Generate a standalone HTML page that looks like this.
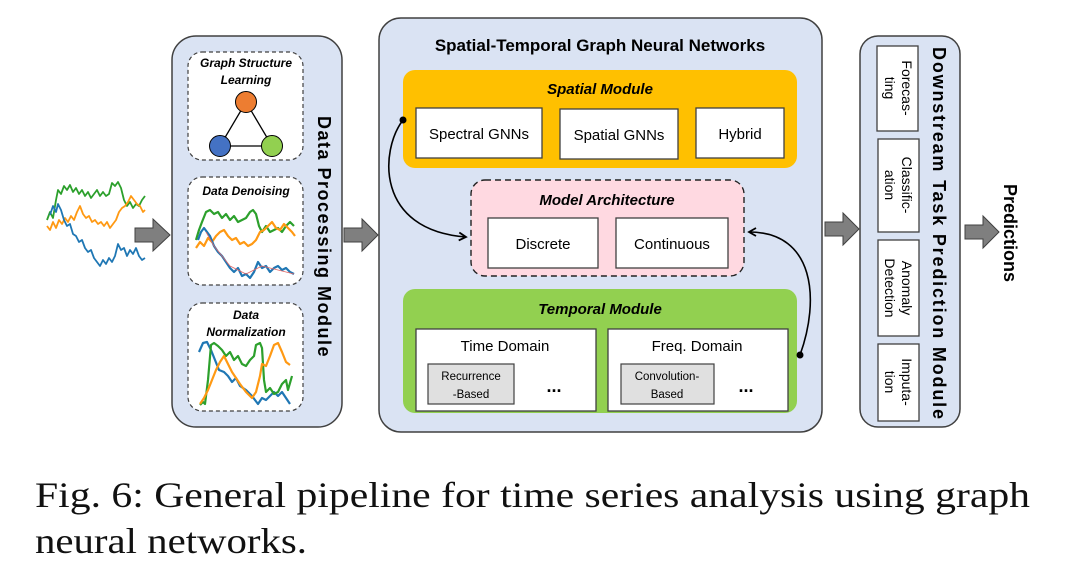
<!DOCTYPE html>
<html><head><meta charset="utf-8"><style>
html,body{margin:0;padding:0;background:#fff;}
svg{display:block;}
.s{font-family:"Liberation Sans",sans-serif;}
</style></head><body>
<svg width="1080" height="588" viewBox="0 0 1080 588" xmlns="http://www.w3.org/2000/svg">
<defs>
<marker id="ah" markerWidth="10" markerHeight="10" refX="8" refY="5" orient="auto" markerUnits="userSpaceOnUse">
<path d="M1,1 L8,5 L1,9" fill="none" stroke="#000" stroke-width="1.8"/>
</marker>
</defs>

<g fill="none" stroke-width="1.8" stroke-linejoin="round">
<polyline stroke="#2ca02c" points="47,220 50,212 53,218 56,200 58,190 61,194 64,186 67,190 70,185 73,192 76,188 79,194 82,190 85,196 88,192 91,198 94,194 97,190 100,196 103,192 106,196 109,194 112,183 115,186 118,182 121,188 124,200 127,206 130,202 133,208 136,204 139,206 142,200 145,196"/>
<polyline stroke="#ff9913" points="47,226 50,230 53,222 56,228 59,220 62,224 65,218 68,222 71,216 74,220 77,212 80,206 83,214 86,218 89,216 92,222 95,220 98,224 101,222 104,226 107,222 110,228 113,224 116,220 119,212 122,208 125,206 128,202 131,196 134,200 137,204 140,206 143,212 145,210"/>
<polyline stroke="#1f77b4" points="50,215 53,206 56,212 58,204 61,210 64,220 67,226 70,224 73,234 76,236 79,242 82,240 85,248 88,252 91,250 94,258 97,262 100,266 103,260 106,264 109,258 112,262 115,256 118,244 121,250 124,248 127,256 130,250 133,254 136,248 139,256 142,260 145,258"/>
</g>

<g fill="#7f7f7f" stroke="#404040" stroke-width="1">
<polygon points="135,228 153,228 153,219 170,235 153,251 153,242 135,242"/>
<polygon points="344,228 362,228 362,219 378,235 362,251 362,242 344,242"/>
<polygon points="825,222 843,222 843,213 859,229 843,245 843,236 825,236"/>
<polygon points="965,225 983,225 983,216 999,232 983,248 983,239 965,239"/>
</g>

<rect x="172" y="36" width="170" height="391" rx="24" fill="#dae3f3" stroke="#404040" stroke-width="1.5"/>
<g fill="#fff" stroke="#404040" stroke-width="1.2" stroke-dasharray="4,3">
<rect x="188" y="52" width="115" height="108" rx="14"/>
<rect x="188" y="177" width="115" height="108" rx="14"/>
<rect x="188" y="303" width="115" height="108" rx="14"/>
</g>
<g class="s" font-weight="bold" font-style="italic" font-size="12" text-anchor="middle" fill="#000">
<text x="246" y="67">Graph Structure</text>
<text x="246" y="84">Learning</text>
<text x="246" y="195">Data Denoising</text>
<text x="246" y="319">Data</text>
<text x="246" y="336">Normalization</text>
</g>
<g stroke="#000" stroke-width="1.3">
<line x1="246" y1="102" x2="220" y2="146"/><line x1="246" y1="102" x2="272" y2="146"/><line x1="220" y1="146" x2="272" y2="146"/>
</g>
<circle cx="246" cy="102" r="10.5" fill="#ed7d31" stroke="#000" stroke-width="1"/>
<circle cx="220" cy="146" r="10.5" fill="#4472c4" stroke="#000" stroke-width="1"/>
<circle cx="272" cy="146" r="10.5" fill="#92d050" stroke="#000" stroke-width="1"/>

<g fill="none" stroke-width="2.2" stroke-linejoin="round">
<polyline stroke="#2ca02c" points="196,240 199,230 202,222 206,212 210,210 214,214 218,212 222,218 226,214 230,220 234,216 238,222 242,220 246,218 250,212 253,210 256,214 259,226 262,232 266,226 270,232 274,230 278,228 282,232 286,226 290,222 294,226"/>
<polyline stroke="#ff9913" points="196,248 200,242 204,246 208,238 212,242 216,236 220,232 224,230 228,236 232,240 236,238 240,244 244,242 248,246 252,244 256,240 260,232 264,230 268,226 272,222 276,228 280,230 284,224 288,228 292,232 295,236"/>
<polyline stroke="#1f77b4" points="198,240 201,232 204,228 207,232 210,236 214,246 218,252 222,256 226,262 230,268 234,272 238,268 242,276 246,274 250,278 254,272 258,262 262,268 266,266 270,272 274,268 278,266 282,270 286,268 290,272 294,274"/>
<polyline stroke="#e06666" stroke-width="0.8" points="206,232 214,246 230,266 246,274 262,266 294,274"/>
</g>

<g fill="none" stroke-width="2.2" stroke-linejoin="round">
<polyline stroke="#1f77b4" points="199,352 203,343 207,342 211,350 215,360 219,370 224,372 228,376 232,382 236,378 240,386 246,390 252,396 258,404 262,398 266,400 270,396 274,392 278,396 282,392 286,398 290,404"/>
<polyline stroke="#2ca02c" points="200,405 203,402 205,404 208,380 211,345 214,343 218,346 222,350 226,356 230,352 234,360 238,356 242,364 246,366 250,360 254,356 256,345 260,343 262,348 264,380 266,392 270,388 274,394 278,392 282,384 286,380 288,390 292,376"/>
<polyline stroke="#ff9913" points="200,404 204,398 208,390 212,380 216,370 220,362 224,356 228,364 232,372 236,378 240,384 246,392 252,398 256,392 260,376 262,364 266,366 270,356 274,345 278,343 282,352 286,362 290,365"/>
</g>
<text class="s" font-weight="bold" font-size="18" transform="translate(318,237) rotate(90)" text-anchor="middle" letter-spacing="1.5">Data  Processing  Module</text>

<rect x="379" y="18" width="443" height="414" rx="22" fill="#dae3f3" stroke="#404040" stroke-width="1.5"/>
<text class="s" x="600" y="51" font-weight="bold" font-size="17" text-anchor="middle">Spatial-Temporal Graph Neural Networks</text>

<rect x="403" y="70" width="394" height="98" rx="12" fill="#ffc000"/>
<text class="s" x="600" y="94" font-weight="bold" font-style="italic" font-size="15" text-anchor="middle">Spatial Module</text>
<g fill="#fff" stroke="#404040" stroke-width="1.3">
<rect x="416" y="108" width="126" height="50"/>
<rect x="560" y="109" width="118" height="50"/>
<rect x="696" y="108" width="88" height="50"/>
</g>
<g class="s" font-size="15" text-anchor="middle">
<text x="479" y="139">Spectral GNNs</text>
<text x="619" y="140">Spatial GNNs</text>
<text x="740" y="139">Hybrid</text>
</g>

<rect x="471" y="180" width="273" height="96" rx="14" fill="#ffd9e1" stroke="#222" stroke-width="1.4" stroke-dasharray="6,4"/>
<text class="s" x="607" y="205" font-weight="bold" font-style="italic" font-size="15" text-anchor="middle">Model Architecture</text>
<g fill="#fff" stroke="#404040" stroke-width="1.3">
<rect x="488" y="218" width="110" height="50"/>
<rect x="616" y="218" width="112" height="50"/>
</g>
<g class="s" font-size="15" text-anchor="middle">
<text x="543" y="249">Discrete</text>
<text x="672" y="249">Continuous</text>
</g>

<rect x="403" y="289" width="394" height="124" rx="12" fill="#92d050"/>
<text class="s" x="600" y="314" font-weight="bold" font-style="italic" font-size="15" text-anchor="middle">Temporal Module</text>
<g fill="#fff" stroke="#404040" stroke-width="1.3">
<rect x="416" y="329" width="180" height="82"/>
<rect x="608" y="329" width="180" height="82"/>
</g>
<g fill="#e0e0e0" stroke="#404040" stroke-width="1.2">
<rect x="428" y="364" width="86" height="40"/>
<rect x="621" y="364" width="93" height="40"/>
</g>
<g class="s" font-size="15" text-anchor="middle">
<text x="505" y="351">Time Domain</text>
<text x="697" y="351">Freq. Domain</text>
</g>
<g class="s" font-size="11.5" text-anchor="middle">
<text x="471" y="380">Recurrence</text>
<text x="471" y="398">-Based</text>
<text x="667" y="380">Convolution-</text>
<text x="667" y="398">Based</text>
</g>
<g class="s" font-size="18" font-weight="bold" text-anchor="middle">
<text x="554" y="392">...</text>
<text x="746" y="392">...</text>
</g>

<circle cx="403" cy="120" r="3.5" fill="#000"/>
<path d="M403,120 C380,150 375,230 466,237" fill="none" stroke="#000" stroke-width="1.6" marker-end="url(#ah)"/>
<circle cx="800" cy="355" r="3.5" fill="#000"/>
<path d="M800,355 C820,300 815,232 749,232" fill="none" stroke="#000" stroke-width="1.6" marker-end="url(#ah)"/>

<rect x="860" y="36" width="100" height="391" rx="18" fill="#dae3f3" stroke="#404040" stroke-width="1.5"/>
<g fill="#fff" stroke="#404040" stroke-width="1.3">
<rect x="877" y="46" width="41" height="85"/>
<rect x="878" y="139" width="41" height="93"/>
<rect x="878" y="240" width="41" height="96"/>
<rect x="878" y="344" width="41" height="77"/>
</g>
<g class="s" font-size="14" text-anchor="middle">
<g transform="translate(898,88) rotate(90)"><text x="0" y="-4">Forecas-</text><text x="0" y="13">ting</text></g>
<g transform="translate(898,185) rotate(90)"><text x="0" y="-4">Classific-</text><text x="0" y="13">ation</text></g>
<g transform="translate(898,288) rotate(90)"><text x="0" y="-4">Anomaly</text><text x="0" y="13">Detection</text></g>
<g transform="translate(898,382) rotate(90)"><text x="0" y="-4">Imputa-</text><text x="0" y="13">tion</text></g>
</g>
<text class="s" font-weight="bold" font-size="18" transform="translate(933,233) rotate(90)" text-anchor="middle" textLength="372" lengthAdjust="spacing">Downstream  Task  Prediction Module</text>
<text class="s" font-weight="bold" font-size="18" transform="translate(1004,233) rotate(90)" text-anchor="middle">Predictions</text>

<g font-family="Liberation Serif, serif" font-size="36" fill="#111">
<text x="35" y="507" textLength="995" lengthAdjust="spacingAndGlyphs">Fig. 6: General pipeline for time series analysis using graph</text>
<text x="35" y="553" textLength="272" lengthAdjust="spacingAndGlyphs">neural networks.</text>
</g>
</svg>
</body></html>
